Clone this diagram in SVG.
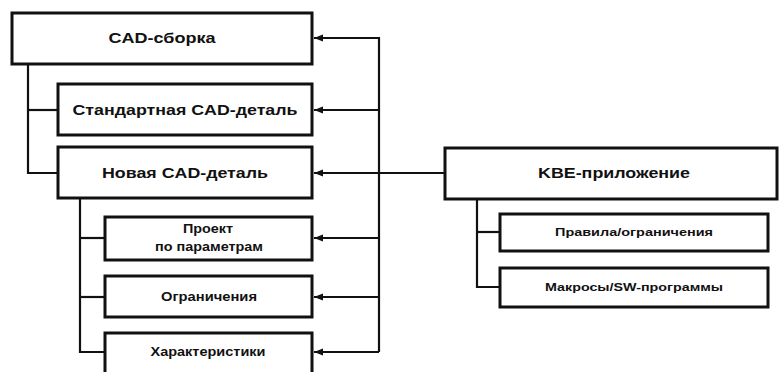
<svg xmlns="http://www.w3.org/2000/svg" width="779" height="372" viewBox="0 0 779 372">
<defs>
<style>
.box{fill:#fff;stroke:#111;stroke-width:3}
.ln{fill:none;stroke:#111;stroke-width:2.2}
.t{font-family:"Liberation Sans",Arial,sans-serif;font-weight:bold;fill:#111;text-anchor:middle;dominant-baseline:central}
.t1{font-size:14px}
.t2{font-size:12px}
.t3{font-size:10.5px}
</style>
<marker id="arr" markerWidth="12" markerHeight="8" refX="10" refY="4" orient="auto" markerUnits="userSpaceOnUse">
<path d="M10,4 L1,0.5 L1,7.5 Z" fill="#111"/>
</marker>
</defs>
<rect width="779" height="372" fill="#fff"/>
<g id="connectors">
<polyline class="ln" points="28,64 28,173 58,173"/>
<line class="ln" x1="28" y1="110" x2="58" y2="110"/>
<polyline class="ln" points="80,198 80,352 105,352"/>
<line class="ln" x1="80" y1="238" x2="105" y2="238"/>
<line class="ln" x1="80" y1="297" x2="105" y2="297"/>
<polyline class="ln" points="477,199 477,287 500,287"/>
<line class="ln" x1="477" y1="232" x2="500" y2="232"/>
<polyline class="ln" points="379,352 379,38 314,38" marker-end="url(#arr)"/>
<line class="ln" x1="379" y1="110" x2="314" y2="110" marker-end="url(#arr)"/>
<line class="ln" x1="445" y1="173" x2="314" y2="173" marker-end="url(#arr)"/>
<line class="ln" x1="379" y1="238" x2="314" y2="238" marker-end="url(#arr)"/>
<line class="ln" x1="379" y1="297" x2="314" y2="297" marker-end="url(#arr)"/>
<line class="ln" x1="379" y1="352" x2="314" y2="352" marker-end="url(#arr)"/>
</g>
<g id="cad-assembly"><rect class="box" x="12" y="13" width="300" height="51"/><text class="t t1" x="162" y="38" textLength="107" lengthAdjust="spacingAndGlyphs">CAD-сборка</text></g>
<g id="std-part"><rect class="box" x="58" y="84" width="254" height="51"/><text class="t t1" x="185" y="110" textLength="225" lengthAdjust="spacingAndGlyphs">Стандартная CAD-деталь</text></g>
<g id="new-part"><rect class="box" x="58" y="147" width="254" height="51"/><text class="t t1" x="185" y="173" textLength="166" lengthAdjust="spacingAndGlyphs">Новая CAD-деталь</text></g>
<g id="design-params"><rect class="box" x="105" y="217" width="207" height="43"/><text class="t t2" x="208" y="229" textLength="50" lengthAdjust="spacingAndGlyphs">Проект</text><text class="t t2" x="209" y="247" textLength="108" lengthAdjust="spacingAndGlyphs">по параметрам</text></g>
<g id="constraints"><rect class="box" x="105" y="276" width="207" height="41"/><text class="t t2" x="209" y="297" textLength="96" lengthAdjust="spacingAndGlyphs">Ограничения</text></g>
<g id="characteristics"><rect class="box" x="105" y="333" width="207" height="43"/><text class="t t2" x="208" y="352" textLength="115" lengthAdjust="spacingAndGlyphs">Характеристики</text></g>
<g id="kbe-app"><rect class="box" x="445" y="148" width="332" height="51"/><text class="t t1" x="614" y="173" textLength="152" lengthAdjust="spacingAndGlyphs">KBE-приложение</text></g>
<g id="rules"><rect class="box" x="500" y="214" width="268" height="37"/><text class="t t3" x="634" y="232" textLength="158" lengthAdjust="spacingAndGlyphs">Правила/ограничения</text></g>
<g id="macros"><rect class="box" x="500" y="268" width="268" height="39"/><text class="t t3" x="634" y="287" textLength="178" lengthAdjust="spacingAndGlyphs">Макросы/SW-программы</text></g>
</svg>
